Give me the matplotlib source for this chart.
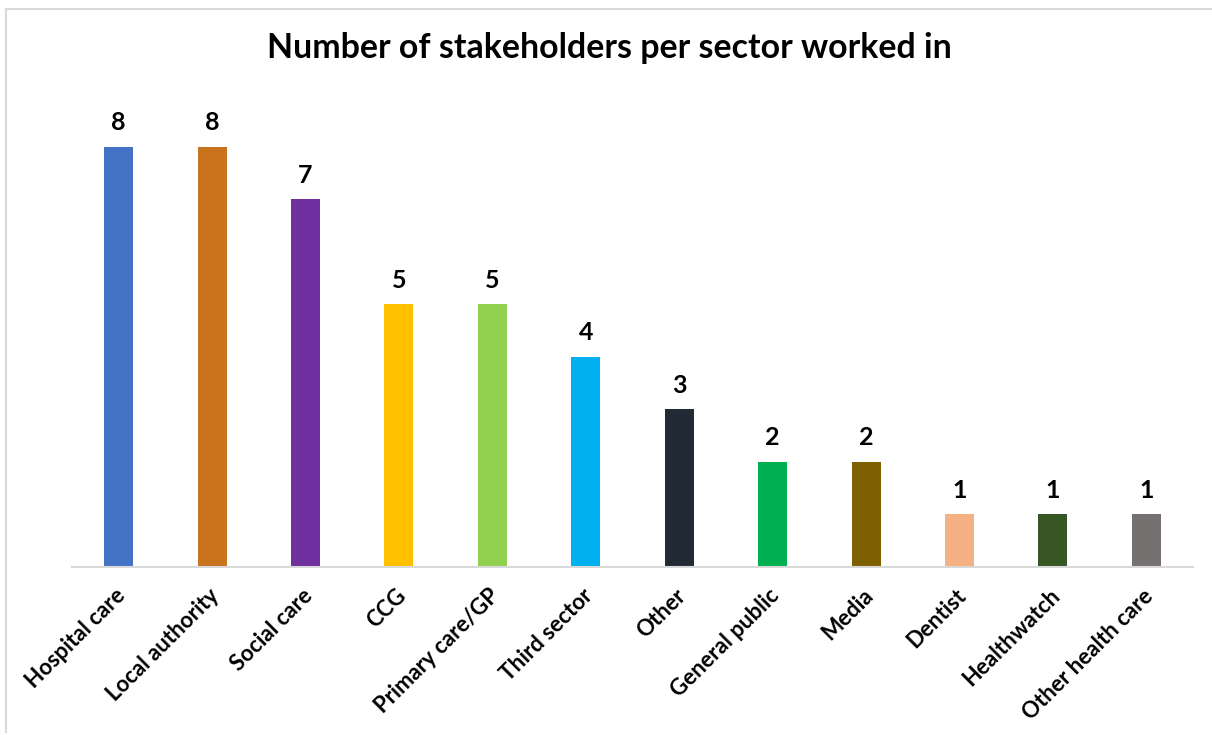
import matplotlib as mpl
import matplotlib.pyplot as plt
from matplotlib.lines import Line2D
from matplotlib.transforms import ScaledTranslation

mpl.use("Agg")

sectors = [
    "Hospital care", "Local authority", "Social care", "CCG", "Primary care/GP",
    "Third sector", "Other", "General public", "Media", "Dentist",
    "Healthwatch", "Other health care",
]
counts = [8, 8, 7, 5, 5, 4, 3, 2, 2, 1, 1, 1]
bar_colors = [
    "#4472C4", "#C9731E", "#7030A0", "#FFC000", "#92D050", "#00B0F0",
    "#222A35", "#00B050", "#7F6000", "#F4B183", "#375623", "#767171",
]

plt.rcParams["font.family"] = ["Lato", "DejaVu Sans"]

fig = plt.figure(figsize=(12.12, 7.35), dpi=100)
ax = fig.add_axes([0.0594, 0.2286, 0.925, 0.643])

x = range(len(sectors))
bars = ax.bar(x, counts, width=0.31, color=bar_colors)

# value labels above each bar
for bar, value in zip(bars, counts):
    ax.annotate(
        str(value),
        (bar.get_x() + bar.get_width() / 2, bar.get_height()),
        xytext=(0, 9), textcoords="offset points",
        ha="center", va="bottom", fontsize=18, fontweight="bold",
    )

ax.set_xlim(-0.5, len(sectors) - 0.5)
ax.set_ylim(0, 9)
ax.set_yticks([])
ax.set_xticks(list(x))
ax.set_xticklabels(sectors, rotation=45, ha="right", rotation_mode="anchor",
                   fontsize=16, fontweight="bold")
ax.tick_params(axis="x", length=0, pad=13)
shift = ScaledTranslation(-0.04, 0, fig.dpi_scale_trans)
for lbl in ax.get_xticklabels():
    lbl.set_transform(lbl.get_transform() + shift)
for side in ("top", "right", "left"):
    ax.spines[side].set_visible(False)
ax.spines["bottom"].set_color("#D9D9D9")
ax.spines["bottom"].set_linewidth(1.5)

fig.text(0.503, 0.935, "Number of stakeholders per sector worked in",
         ha="center", va="center", fontsize=24.4, fontweight="bold")

# chart frame (top and left edges)
fig.add_artist(Line2D([0.005, 0.005], [0.004, 0.988], color="#D9D9D9", lw=1.5,
                      transform=fig.transFigure))
fig.add_artist(Line2D([0.005, 1.0], [0.988, 0.988], color="#D9D9D9", lw=1.5,
                      transform=fig.transFigure))

fig.savefig("out.png", dpi=100)
plt.close(fig)
